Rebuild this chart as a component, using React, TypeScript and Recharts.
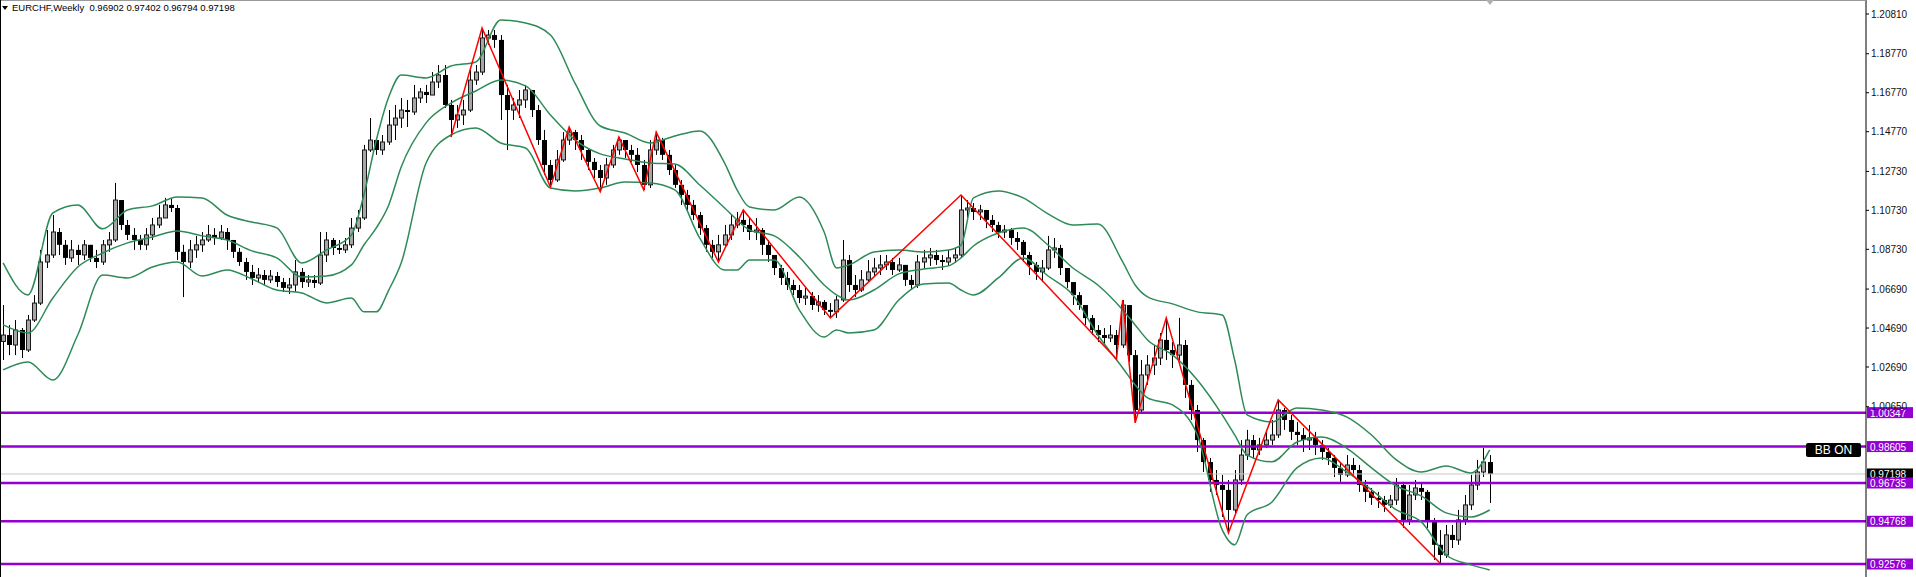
import React from "react";
import { ComposedChart, Bar, Line, XAxis, YAxis, ReferenceLine } from "recharts";

// weekly EURCHF, sampled every second week: [high, low, close]; open = previous close
const firstOpen = 1.04;

const candlesA = [
  [1.0587, 1.0305, 1.0433], [1.0484, 1.033, 1.0382], [1.051, 1.033, 1.0459], [1.0469, 1.0315, 1.0356],
  [1.0536, 1.0346, 1.051], [1.0638, 1.05, 1.0597], [1.087, 1.0587, 1.0808], [1.0972, 1.0777, 1.0844],
  [1.1049, 1.0829, 1.0962], [1.0982, 1.0844, 1.0896], [1.0921, 1.0793, 1.0829], [1.0921, 1.0808, 1.087],
  [1.0896, 1.0793, 1.0844], [1.0921, 1.0818, 1.0896], [1.0896, 1.0808, 1.0829], [1.087, 1.0777, 1.0808],
  [1.0921, 1.0793, 1.0896], [1.0962, 1.086, 1.0921], [1.1214, 1.0911, 1.1126], [1.1126, 1.0972, 1.0998],
  [1.1024, 1.0921, 1.0947], [1.0982, 1.087, 1.0921], [1.0947, 1.087, 1.0896], [1.0982, 1.087, 1.0947],
  [1.1034, 1.0921, 1.0998], [1.1101, 1.0982, 1.1034], [1.1137, 1.1034, 1.1101], [1.1137, 1.1065, 1.1085],
  [1.1101, 1.0818, 1.086], [1.0896, 1.0628, 1.0808], [1.0921, 1.0777, 1.087], [1.0942, 1.0829, 1.0896],
  [1.0962, 1.086, 1.0921], [1.0998, 1.0911, 1.0947], [1.0982, 1.0896, 1.0931], [1.0998, 1.0921, 1.0962],
  [1.0982, 1.087, 1.0921], [1.0921, 1.0829, 1.086], [1.088, 1.0788, 1.0808], [1.0829, 1.0716, 1.0757],
];

const candlesB = [
  [1.0793, 1.069, 1.0726], [1.0777, 1.07, 1.0741], [1.0767, 1.069, 1.0716], [1.0767, 1.07, 1.0736],
  [1.0757, 1.068, 1.0705], [1.0726, 1.0654, 1.0675], [1.0726, 1.0644, 1.069], [1.0818, 1.0654, 1.0757],
  [1.0777, 1.0675, 1.0705], [1.0741, 1.068, 1.0716], [1.0741, 1.0675, 1.07], [1.0962, 1.069, 1.0844],
  [1.0962, 1.0808, 1.0921], [1.0931, 1.0844, 1.088], [1.0921, 1.0849, 1.087], [1.0931, 1.0854, 1.0896],
  [1.1034, 1.088, 1.0982], [1.1075, 1.0962, 1.1034], [1.1409, 1.1024, 1.1383], [1.1547, 1.1373, 1.1434],
  [1.1445, 1.1358, 1.1383], [1.146, 1.1358, 1.1424], [1.1588, 1.1409, 1.1511], [1.1614, 1.1434, 1.1547],
  [1.165, 1.1496, 1.1588], [1.164, 1.1501, 1.1578], [1.1717, 1.1563, 1.165], [1.1701, 1.1624, 1.1681],
  [1.1717, 1.1624, 1.1665], [1.1783, 1.1665, 1.1732], [1.1819, 1.1701, 1.1768], [1.1819, 1.1599, 1.1614],
  [1.164, 1.145, 1.1537], [1.1614, 1.1496, 1.1563], [1.164, 1.1511, 1.1588], [1.1804, 1.1578, 1.1742],
  [1.1819, 1.1717, 1.1783], [1.2009, 1.1768, 1.1958], [1.1999, 1.1922, 1.1973], [1.1999, 1.1907, 1.1948],
];

const candlesC = [
  [1.1973, 1.1537, 1.1665], [1.1717, 1.1383, 1.1588], [1.165, 1.1537, 1.1614], [1.1691, 1.1547, 1.164],
  [1.1717, 1.1599, 1.1691], [1.1665, 1.1552, 1.1588], [1.1614, 1.1409, 1.1434], [1.1486, 1.1255, 1.1306],
  [1.1332, 1.1193, 1.1229], [1.1383, 1.1219, 1.1332], [1.1475, 1.1322, 1.1434], [1.1501, 1.1409, 1.1475],
  [1.1486, 1.1383, 1.1434], [1.146, 1.1332, 1.1383], [1.1393, 1.128, 1.1322], [1.1342, 1.1239, 1.128],
  [1.1306, 1.1168, 1.1239], [1.1342, 1.1204, 1.1306], [1.1409, 1.1291, 1.1383], [1.145, 1.1358, 1.1434],
  [1.1434, 1.1342, 1.1383], [1.1409, 1.1322, 1.1358], [1.1393, 1.127, 1.1306], [1.1332, 1.1178, 1.1204],
  [1.1434, 1.1188, 1.1383], [1.1475, 1.1358, 1.1434], [1.1445, 1.1332, 1.1358], [1.1383, 1.1255, 1.128],
  [1.1306, 1.1188, 1.1204], [1.1229, 1.1101, 1.1152], [1.1178, 1.1065, 1.1101], [1.1126, 1.1024, 1.1049],
  [1.1065, 1.0947, 1.0982], [1.0998, 1.086, 1.0896], [1.0921, 1.0829, 1.086], [1.0947, 1.0808, 1.0896],
  [1.0998, 1.088, 1.0947], [1.1049, 1.0921, 1.0998], [1.1065, 1.0982, 1.1024], [1.1075, 1.0962, 1.0998],
];

const candlesD = [
  [1.1034, 1.0921, 1.0962], [1.1034, 1.0921, 1.0972], [1.0982, 1.0844, 1.0896], [1.0921, 1.0808, 1.0844],
  [1.0844, 1.0741, 1.0777], [1.0793, 1.069, 1.0726], [1.0757, 1.0664, 1.069], [1.0716, 1.0638, 1.0664],
  [1.069, 1.0597, 1.0623], [1.0675, 1.0587, 1.0633], [1.0654, 1.0562, 1.0587], [1.0638, 1.0552, 1.0603],
  [1.0613, 1.0536, 1.0562], [1.0597, 1.0521, 1.0552], [1.0633, 1.0521, 1.0613], [1.0921, 1.0603, 1.0818],
  [1.0844, 1.0654, 1.069], [1.0741, 1.0628, 1.0664], [1.0767, 1.0654, 1.0716], [1.0818, 1.0705, 1.0757],
  [1.0829, 1.0736, 1.0777], [1.0844, 1.0741, 1.0793], [1.0844, 1.0767, 1.0808], [1.0829, 1.0741, 1.0767],
  [1.0829, 1.0757, 1.0793], [1.0793, 1.0685, 1.0716], [1.0741, 1.0664, 1.069], [1.0844, 1.0675, 1.0808],
  [1.087, 1.0777, 1.0829], [1.088, 1.0788, 1.0844], [1.087, 1.0793, 1.0818], [1.0844, 1.0767, 1.0808],
  [1.087, 1.0788, 1.0829], [1.088, 1.0803, 1.0844], [1.1152, 1.0829, 1.1075], [1.1126, 1.1034, 1.1085],
  [1.1111, 1.1024, 1.1065], [1.1101, 1.1024, 1.1075], [1.1075, 1.0982, 1.1024], [1.1049, 1.0962, 1.0998],
];

const candlesE = [
  [1.1014, 1.0931, 1.0962], [1.0998, 1.0931, 1.0972], [1.0982, 1.0896, 1.0931], [1.0962, 1.087, 1.0911],
  [1.0921, 1.0808, 1.0844], [1.086, 1.0741, 1.0793], [1.0808, 1.0716, 1.0757], [1.0818, 1.0705, 1.0777],
  [1.0942, 1.0767, 1.087], [1.0931, 1.0829, 1.088], [1.0896, 1.0741, 1.0777], [1.0777, 1.0675, 1.0705],
  [1.0705, 1.0587, 1.0638], [1.0654, 1.0562, 1.0587], [1.0587, 1.0484, 1.052], [1.0536, 1.0433, 1.0459],
  [1.0484, 1.0397, 1.0433], [1.0469, 1.0382, 1.0418], [1.0484, 1.0397, 1.0433], [1.0459, 1.031, 1.0382],
  [1.0613, 1.0367, 1.0587], [1.0562, 1.0295, 1.033], [1.0356, 0.9982, 1.0048], [1.0305, 1.0038, 1.0228],
  [1.033, 1.0177, 1.0279], [1.0382, 1.0228, 1.0315], [1.0443, 1.0279, 1.0408], [1.0521, 1.0305, 1.0356],
  [1.0397, 1.0264, 1.033], [1.0521, 1.0305, 1.0382], [1.0408, 1.011, 1.0177], [1.0202, 0.9997, 1.0048],
  [1.0074, 0.9833, 0.9894], [0.9905, 0.973, 0.9781], [0.9802, 0.9628, 0.9689], [0.974, 0.9612, 0.9663],
  [0.9715, 0.9499, 0.9638], [0.9689, 0.9417, 0.9535], [0.974, 0.9509, 0.9689], [0.9894, 0.9663, 0.9817],
];

const candlesF = [
  [0.9946, 0.9792, 0.9894], [0.992, 0.9802, 0.9843], [0.9905, 0.9817, 0.9869], [0.9936, 0.9853, 0.9894],
  [0.9997, 0.9869, 0.992], [1.01, 0.9905, 1.0048], [1.0059, 0.9946, 0.9997], [1.0023, 0.9894, 0.9936],
  [0.9987, 0.9869, 0.992], [0.9956, 0.9833, 0.9894], [0.9971, 0.9843, 0.9905], [0.9936, 0.9817, 0.9869],
  [0.9894, 0.9792, 0.9833], [0.9853, 0.9766, 0.9802], [0.9817, 0.9704, 0.9751], [0.9781, 0.9679, 0.9715],
  [0.9817, 0.9704, 0.9766], [0.9802, 0.971, 0.974], [0.9766, 0.9628, 0.9663], [0.9689, 0.9576, 0.9628],
  [0.9648, 0.9561, 0.9597], [0.9628, 0.9545, 0.9586], [0.9607, 0.9525, 0.9561], [0.9612, 0.9545, 0.9586],
  [0.9699, 0.9561, 0.9663], [0.9679, 0.9443, 0.9484], [0.9663, 0.9458, 0.9612], [0.9689, 0.9586, 0.9648],
  [0.9674, 0.9586, 0.9628], [0.9638, 0.9443, 0.9474], [0.9494, 0.9278, 0.9356], [0.9432, 0.9263, 0.9304],
  [0.9458, 0.9289, 0.9407], [0.9458, 0.934, 0.9381], [0.9535, 0.9356, 0.9484], [0.9612, 0.9458, 0.9561],
  [0.9715, 0.9535, 0.9663], [0.9792, 0.9638, 0.973], [0.9853, 0.9704, 0.9781], [0.9817, 0.9571, 0.972],
];

// Bollinger bands at these bar positions
const bandIdx = [0, 4, 8, 12, 16, 20, 24, 28, 32, 36, 40, 44, 48, 52, 56, 58, 60, 62, 64, 68, 72, 76, 80, 84, 88,
  92, 96, 100, 104, 108, 112, 116, 118, 120, 124, 128, 132, 134, 136, 140, 144, 148, 152, 154, 156, 160, 164,
  168, 172, 176, 180, 182, 184, 188, 192, 196, 198, 200, 204, 208, 212, 216, 220, 224, 228, 232, 236, 239];

const upperBand = [1.0803, 1.0639, 1.106, 1.1101, 1.0978, 1.1075, 1.1096, 1.1142, 1.1137, 1.1049, 1.1013, 1.0983,
  1.0803, 1.087, 1.0947, 1.1152, 1.1434, 1.1655, 1.1768, 1.1753, 1.1814, 1.1835, 1.205, 1.2035, 1.1973,
  1.1722, 1.1506, 1.147, 1.1419, 1.1455, 1.1481, 1.1316, 1.1178, 1.109, 1.1075, 1.1142, 1.0962, 1.0777, 1.0793,
  1.0859, 1.087, 1.0859, 1.087, 1.0895, 1.1137, 1.1173, 1.1137, 1.1055, 1.0998, 1.1003, 1.0808, 1.069, 1.0629,
  1.0593, 1.0552, 1.0536, 1.0305, 1.0023, 0.9987, 1.0059, 1.0048, 1.0013, 0.992, 0.9792, 0.973, 0.9761, 0.9725, 0.9843];

const middleBand = [1.0485, 1.0444, 1.0623, 1.0782, 1.0854, 1.0906, 1.0936, 1.0967, 1.0942, 1.0921, 1.0865, 1.0829,
  1.0731, 1.0736, 1.0793, 1.0895, 1.0983, 1.1101, 1.1296, 1.1522, 1.1624, 1.1686, 1.1742, 1.1712, 1.1563,
  1.1434, 1.1363, 1.1337, 1.1316, 1.1311, 1.1203, 1.1085, 1.1024, 1.0972, 1.0942, 1.0834, 1.069, 1.0639, 1.0613,
  1.0664, 1.0747, 1.0772, 1.0788, 1.0829, 1.089, 1.0957, 1.0983, 1.0895, 1.0777, 1.069, 1.0562, 1.0485, 1.0408,
  1.0331, 1.0202, 1.0023, 0.992, 0.9817, 0.9782, 0.9884, 0.991, 0.9853, 0.9751, 0.9658, 0.9607, 0.952, 0.9499, 0.9535];

const lowerBand = [1.0254, 1.0295, 1.0202, 1.0433, 1.0741, 1.0726, 1.0782, 1.0808, 1.0736, 1.0767, 1.0721, 1.0664,
  1.0649, 1.0598, 1.0623, 1.0552, 1.0552, 1.0664, 1.0803, 1.1316, 1.146, 1.1496, 1.1419, 1.1393, 1.1188,
  1.1173, 1.1188, 1.1219, 1.1214, 1.1178, 1.0931, 1.0767, 1.0767, 1.0818, 1.0818, 1.0562, 1.0423, 1.0459, 1.0444,
  1.0459, 1.0613, 1.0695, 1.07, 1.0664, 1.0639, 1.0726, 1.0829, 1.0736, 1.0639, 1.0433, 1.0264, 1.0177, 1.011,
  1.0074, 0.992, 0.9433, 0.9356, 0.951, 0.9576, 0.9751, 0.9802, 0.973, 0.9638, 0.9535, 0.9474, 0.9304, 0.9253, 0.9227];

// ZigZag pivots: [bar, price]
const zigzag = [[72, 1.145], [77, 1.2009], [88, 1.1193], [91, 1.1501], [96, 1.1168], [99, 1.145], [103, 1.1178],
  [105, 1.1475], [115, 1.0808], [119, 1.1075], [133, 1.0521], [154, 1.1152], [179, 1.031], [180, 1.0613],
  [182, 0.9982], [187, 1.0521], [197, 0.9417], [205, 1.01], [231, 0.9263]];

const levels = [1.00347, 0.98605, 0.96735, 0.94768, 0.92576];
const lastPrice = 0.97198;
const yTicks = [1.2081, 1.1877, 1.1677, 1.1477, 1.1273, 1.1073, 1.0873, 1.0669, 1.0469, 1.0269, 1.0065];
const SLOTS = 300;

const PURPLE = "#9400d3";
const FONT = "'Liberation Sans', Arial, sans-serif";

const candles = [...candlesA, ...candlesB, ...candlesC, ...candlesD, ...candlesE, ...candlesF];

const rows: any[] = Array.from({ length: SLOTS }, (_, i) => ({ i }));
candles.forEach(([h, l, c], i) => {
  const o = i === 0 ? firstOpen : candles[i - 1][2];
  Object.assign(rows[i], { o, h, l, c, range: [l, h] });
});
bandIdx.forEach((k, j) => {
  rows[k].up = upperBand[j];
  rows[k].mid = middleBand[j];
  rows[k].lo = lowerBand[j];
});
zigzag.forEach(([k, p]) => { rows[k].zz = p; });

function Candle(props: any) {
  const { x, y, width, height, payload } = props;
  if (!payload || payload.h == null) return null;
  const { o, h, l, c } = payload;
  const top = Math.min(y, y + height);
  const hgt = Math.abs(height);
  const k = hgt / (h - l || 1e-9);
  const py = (v: number) => top + (h - v) * k;
  const left = Math.round(x + width / 2) - 2;
  const bTop = py(Math.max(o, c));
  const bBot = py(Math.min(o, c));
  const bull = c >= o;
  return (
    <g>
      <line x1={left + 2.5} x2={left + 2.5} y1={top} y2={top + hgt} stroke="#000" strokeWidth={1} />
      {bull ? (
        <rect x={left + 0.5} y={bTop} width={4} height={Math.max(bBot - bTop, 1)} fill="#a6a6a6" stroke="#1a1a1a" strokeWidth={1} />
      ) : (
        <rect x={left} y={bTop} width={5} height={Math.max(bBot - bTop, 1)} fill="#000" />
      )}
    </g>
  );
}

function PriceTag(props: any) {
  const { viewBox, value, color } = props;
  if (!viewBox) return null;
  const x = viewBox.x + viewBox.width + 1;
  const y = viewBox.y;
  return (
    <g>
      <rect x={x} y={y - 5.5} width={46} height={11} fill={color} />
      <text x={x + 3} y={y + 4} fill="#fff" fontSize={10} fontFamily={FONT}>{value.toFixed(5)}</text>
    </g>
  );
}

export default function App() {
  return (
    <div style={{ position: "absolute", left: 0, top: 0, width: 1916, height: 577, background: "#fff", overflow: "hidden" }}>
      <ComposedChart width={1916} height={577} data={rows} margin={{ top: 0, right: 0, bottom: 0, left: 0 }} barCategoryGap={0}>
        <XAxis dataKey="i" type="category" hide />
        <YAxis
          orientation="right"
          width={50}
          domain={[0.91909, 1.21529]}
          allowDataOverflow
          ticks={yTicks}
          interval={0}
          tickFormatter={(v: number) => v.toFixed(5)}
          tick={{ fontSize: 10, fill: "#111", fontFamily: FONT }}
          tickSize={3}
          axisLine={{ stroke: "#000" }}
          tickLine={{ stroke: "#000" }}
        />
        <ReferenceLine y={lastPrice} stroke="#c8c8c8" strokeWidth={1} label={<PriceTag value={lastPrice} color="#000" />} />
        {levels.map((v) => (
          <ReferenceLine key={v} y={v} stroke={PURPLE} strokeWidth={2.5} label={<PriceTag value={v} color={PURPLE} />} />
        ))}
        <Bar dataKey="range" shape={<Candle />} isAnimationActive={false} />
        <Line dataKey="up" type="monotone" stroke="#2e8b57" strokeWidth={1.5} dot={false} connectNulls isAnimationActive={false} />
        <Line dataKey="mid" type="monotone" stroke="#2e8b57" strokeWidth={1.5} dot={false} connectNulls isAnimationActive={false} />
        <Line dataKey="lo" type="monotone" stroke="#2e8b57" strokeWidth={1.5} dot={false} connectNulls isAnimationActive={false} />
        <Line dataKey="zz" type="linear" stroke="#ff0000" strokeWidth={1.5} dot={false} connectNulls isAnimationActive={false} />
      </ComposedChart>
      <div style={{ position: "absolute", left: 0, top: 0, width: 1866, height: 1, background: "#9a9a9a" }} />
      <div style={{ position: "absolute", left: 0, top: 0, width: 1, height: 577, background: "#000" }} />
      <div style={{ position: "absolute", left: 1486, top: 0, width: 0, height: 0, borderLeft: "4px solid transparent", borderRight: "4px solid transparent", borderTop: "5px solid #b0b0b0" }} />
      <div style={{ position: "absolute", left: 2, top: 6, width: 0, height: 0, borderLeft: "3.5px solid transparent", borderRight: "3.5px solid transparent", borderTop: "4px solid #000" }} />
      <div style={{ position: "absolute", left: 12, top: 2, fontFamily: FONT, fontSize: 9.5, color: "#000", whiteSpace: "pre" }}>
        EURCHF,Weekly  0.96902 0.97402 0.96794 0.97198
      </div>
      <div style={{ position: "absolute", left: 1806, top: 443, width: 55, height: 14, background: "#000", borderRadius: 2, color: "#fff", fontFamily: FONT, fontSize: 12, lineHeight: "14px", textAlign: "center" }}>
        BB ON
      </div>
    </div>
  );
}
